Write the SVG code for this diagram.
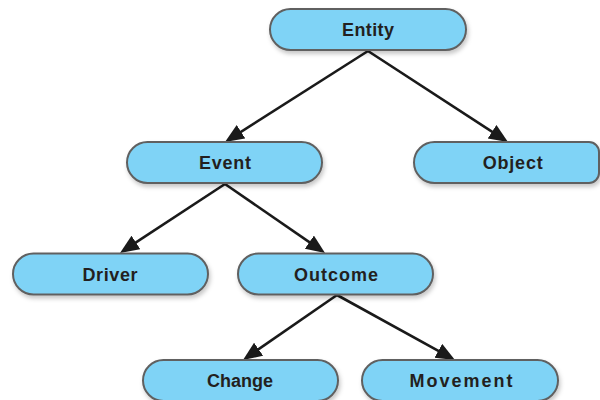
<svg xmlns="http://www.w3.org/2000/svg" width="600" height="400" viewBox="0 0 600 400">
<defs>
<filter id="sh" x="-10%" y="-30%" width="120%" height="170%">
<feDropShadow dx="1.5" dy="3" stdDeviation="2" flood-color="#000" flood-opacity="0.22"/>
</filter>
<marker id="ah" markerUnits="userSpaceOnUse" markerWidth="20" markerHeight="18" refX="14" refY="8" orient="auto">
<path d="M0,0 L19,8 L0,16 Z" fill="#1a1a1a"/>
</marker>
<style>
.box{fill:#7fd3f6;stroke:#606060;stroke-width:2;filter:url(#sh)}
.lbl{font-family:"Liberation Sans",Arial,sans-serif;font-weight:bold;font-size:18px;fill:#231f20;text-anchor:middle}
.edge{stroke:#1a1a1a;stroke-width:2.6;fill:none;marker-end:url(#ah)}
</style>
</defs>
<rect width="600" height="400" fill="#fff"/>
<g id="connectors">
<line class="edge" x1="368" y1="51" x2="229.2" y2="139.3"/>
<line class="edge" x1="368" y1="51" x2="503.8" y2="139.3"/>
<line class="edge" x1="225" y1="184" x2="124.2" y2="250.2"/>
<line class="edge" x1="225" y1="184" x2="320.9" y2="250.1"/>
<line class="edge" x1="337" y1="295" x2="247.1" y2="357.2"/>
<line class="edge" x1="337" y1="295" x2="450.6" y2="357.6"/>
</g>
<g id="entity">
<rect class="box" x="270" y="9" width="196" height="41" rx="20.5"/>
<text class="lbl" x="368" y="36" textLength="52">Entity</text>
</g>
<g id="event">
<rect class="box" x="127" y="142" width="195" height="41" rx="20.5"/>
<text class="lbl" x="225" y="169" textLength="52">Event</text>
</g>
<g id="object">
<path class="box" d="M434.5,142 H589 A10,10 0 0 1 599,152 V173 A10,10 0 0 1 589,183 H434.5 A20.5,20.5 0 0 1 434.5,142 Z"/>
<text class="lbl" x="512.7" y="169" textLength="60">Object</text>
</g>
<g id="driver">
<rect class="box" x="13" y="253.5" width="195" height="41" rx="20.5"/>
<text class="lbl" x="110" y="281" textLength="55">Driver</text>
</g>
<g id="outcome">
<rect class="box" x="238" y="253.5" width="195" height="41" rx="20.5"/>
<text class="lbl" x="336" y="281" textLength="84">Outcome</text>
</g>
<g id="change">
<rect class="box" x="143" y="360" width="195" height="41" rx="20.5"/>
<text class="lbl" x="240" y="387" textLength="66">Change</text>
</g>
<g id="movement">
<rect class="box" x="362" y="360" width="196" height="41" rx="20.5"/>
<text class="lbl" x="461" y="387" textLength="103">Movement</text>
</g>
</svg>
